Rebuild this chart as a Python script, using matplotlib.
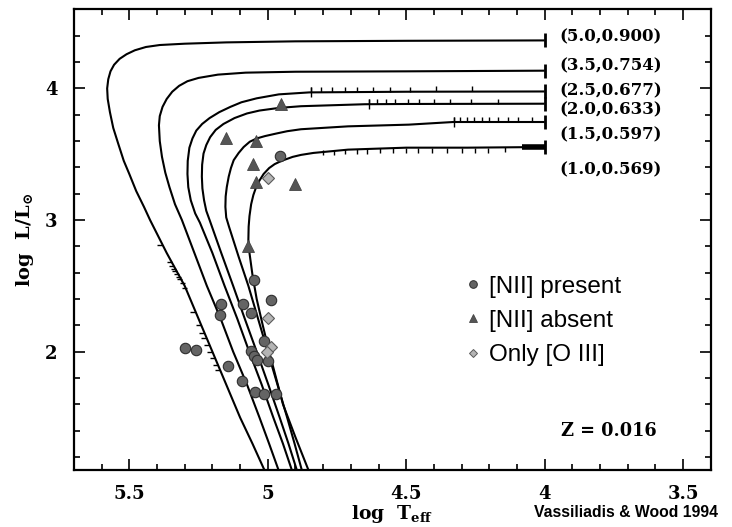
import matplotlib
matplotlib.use("Agg")
import matplotlib.pyplot as plt
from matplotlib.lines import Line2D
from matplotlib.markers import TICKUP, TICKDOWN, TICKLEFT

plt.rcParams['mathtext.fontset'] = 'dejavuserif'
plt.rcParams['mathtext.default'] = 'bf'

# ---- data -------------------------------------------------------------
track_labels = ["(5.0,0.900)", "(3.5,0.754)", "(2.5,0.677)",
                "(2.0,0.633)", "(1.5,0.597)", "(1.0,0.569)"]
label_y = [4.39, 4.17, 3.98, 3.84, 3.645, 3.385]

t50_x = [4.00, 4.50, 4.90, 5.15, 5.30, 5.39, 5.44, 5.48, 5.51, 5.535, 5.555, 5.568, 5.576, 5.58, 5.578, 5.57, 5.558, 5.54, 5.52, 5.50, 5.475, 5.447, 5.425, 5.365, 5.30, 5.25, 5.20, 5.15, 5.10, 5.055, 5.012]
t50_y = [4.365, 4.362, 4.358, 4.35, 4.34, 4.33, 4.315, 4.29, 4.26, 4.225, 4.18, 4.13, 4.07, 4.00, 3.92, 3.82, 3.70, 3.58, 3.45, 3.35, 3.22, 3.10, 3.00, 2.75, 2.50, 2.25, 2.00, 1.75, 1.50, 1.30, 1.10]

t35_x = [4.00, 4.50, 4.90, 5.08, 5.18, 5.25, 5.29, 5.32, 5.345, 5.365, 5.38, 5.39, 5.393, 5.39, 5.382, 5.37, 5.355, 5.335, 5.31, 5.265, 5.22, 5.17, 5.125, 5.075, 5.03, 4.995, 4.961]
t35_y = [4.135, 4.13, 4.127, 4.12, 4.105, 4.08, 4.055, 4.02, 3.975, 3.92, 3.86, 3.79, 3.72, 3.60, 3.48, 3.36, 3.25, 3.12, 3.00, 2.75, 2.50, 2.25, 2.00, 1.75, 1.50, 1.30, 1.10]

t25_x = [4.00, 4.50, 4.85, 4.96, 5.04, 5.095, 5.135, 5.175, 5.21, 5.237, 5.258, 5.272, 5.283, 5.289, 5.29, 5.287, 5.278, 5.262, 5.245, 5.20, 5.156, 5.11, 5.067, 5.022, 4.98, 4.945, 4.913]
t25_y = [3.977, 3.975, 3.97, 3.955, 3.925, 3.895, 3.86, 3.82, 3.775, 3.73, 3.68, 3.62, 3.55, 3.45, 3.35, 3.25, 3.15, 3.05, 2.98, 2.75, 2.50, 2.25, 2.00, 1.75, 1.50, 1.30, 1.10]

t20_x = [4.00, 4.50, 4.65, 4.88, 4.96, 5.03, 5.075, 5.12, 5.16, 5.188, 5.208, 5.222, 5.232, 5.237, 5.238, 5.236, 5.23, 5.222, 5.21, 5.168, 5.125, 5.083, 5.04, 4.998, 4.957, 4.925, 4.895]
t20_y = [3.884, 3.882, 3.88, 3.865, 3.852, 3.832, 3.81, 3.775, 3.73, 3.685, 3.63, 3.57, 3.505, 3.42, 3.33, 3.24, 3.15, 3.07, 3.00, 2.75, 2.50, 2.25, 2.00, 1.75, 1.50, 1.30, 1.10]

t15_x = [4.00, 4.33, 4.49, 4.71, 4.88, 4.93, 4.97, 5.01, 5.04, 5.065, 5.087, 5.105, 5.123, 5.133, 5.141, 5.148, 5.152, 5.153, 5.15, 5.14, 5.105, 5.07, 5.035, 5.00, 4.965, 4.93, 4.903, 4.877]
t15_y = [3.745, 3.745, 3.725, 3.712, 3.69, 3.675, 3.657, 3.638, 3.62, 3.595, 3.555, 3.51, 3.455, 3.395, 3.33, 3.25, 3.18, 3.10, 3.02, 2.95, 2.72, 2.50, 2.25, 2.00, 1.75, 1.50, 1.30, 1.10]

t10_x = [4.00, 4.28, 4.50, 4.71, 4.835, 4.88, 4.91, 4.95, 4.975, 4.995, 5.015, 5.03, 5.042, 5.052, 5.06, 5.066, 5.069, 5.07, 5.066, 5.055, 5.04, 5.018, 4.995, 4.97, 4.945, 4.90, 4.853]
t10_y = [3.555, 3.55, 3.55, 3.535, 3.51, 3.495, 3.48, 3.45, 3.425, 3.395, 3.35, 3.30, 3.25, 3.19, 3.12, 3.03, 2.95, 2.85, 2.75, 2.58, 2.40, 2.20, 2.00, 1.80, 1.60, 1.35, 1.10]

tracks_x = [t50_x, t35_x, t25_x, t20_x, t15_x, t10_x]
tracks_y = [t50_y, t35_y, t25_y, t20_y, t15_y, t10_y]

thick_x = [4.00, 4.08]
thick_y = [3.555, 3.555]

# small time-step ticks along the tracks
step25_x = [4.844, 4.808, 4.768, 4.72, 4.676, 4.62, 4.56, 4.486, 4.392, 4.263]
step25_y = [3.972, 3.973, 3.974, 3.975, 3.975, 3.975, 3.976, 3.976, 3.977, 3.977]
step20_x = [4.636, 4.606, 4.572, 4.54, 4.495, 4.452, 4.399, 4.341, 4.266, 4.167]
step20_y = [3.88, 3.881, 3.881, 3.882, 3.882, 3.882, 3.883, 3.883, 3.884, 3.884]
step15_x = [4.327, 4.305, 4.281, 4.254, 4.227, 4.20, 4.17, 4.134, 4.095, 4.046]
step15_y = [3.745, 3.745, 3.745, 3.745, 3.745, 3.745, 3.745, 3.745, 3.745, 3.745]
step10_x = [4.80, 4.762, 4.72, 4.678, 4.64, 4.594, 4.548, 4.50, 4.456, 4.407, 4.353, 4.299, 4.25, 4.203, 4.143]
step10_y = [3.53, 3.535, 3.538, 3.54, 3.543, 3.545, 3.548, 3.55, 3.55, 3.55, 3.55, 3.55, 3.55, 3.551, 3.552]
step50_x = [5.382, 5.345, 5.338, 5.332, 5.326, 5.32, 5.314, 5.308, 5.30, 5.29, 5.262, 5.242, 5.23, 5.222, 5.212, 5.20, 5.19, 5.18, 5.172]
step50_y = [2.81, 2.68, 2.65, 2.63, 2.61, 2.59, 2.57, 2.55, 2.52, 2.48, 2.30, 2.20, 2.14, 2.10, 2.05, 2.00, 1.95, 1.90, 1.86]

present_x = [5.049, 4.990, 5.170, 5.090, 5.172, 5.060, 5.300, 5.260, 5.012, 5.060, 5.051, 5.040, 5.000, 5.142, 5.092, 5.046, 5.012, 4.972, 4.955]
present_y = [2.545, 2.390, 2.360, 2.360, 2.280, 2.290, 2.030, 2.010, 2.080, 2.005, 1.968, 1.935, 1.930, 1.892, 1.778, 1.690, 1.680, 1.680, 3.483]

absent_x = [4.952, 5.150, 5.042, 5.052, 5.041, 4.903, 5.072]
absent_y = [3.882, 3.620, 3.600, 3.423, 3.287, 3.272, 2.804]

oiii_x = [5.000, 5.000, 4.988, 5.002]
oiii_y = [3.322, 2.258, 2.039, 2.000]

legend_labels = ["[NII] present", "[NII] absent", "Only [O III]"]

# ---- figure -----------------------------------------------------------
fig = plt.figure(figsize=(7.32, 5.27), dpi=100)
ax = fig.add_axes([0.101, 0.108, 0.870, 0.874])

for tx, ty in zip(tracks_x, tracks_y):
    ax.plot(tx, ty, color='black', lw=1.5, solid_capstyle='butt',
            solid_joinstyle='round', zorder=2)
    ax.plot(tx[0], ty[0], marker='|', ms=10, mew=2.0, color='black', zorder=2)
ax.plot(thick_x, thick_y, color='black', lw=4, solid_capstyle='butt', zorder=2)
tick_sty = dict(ls='none', ms=3.5, mew=1.0, color='black', zorder=2)
for sx, sy in [(step25_x, step25_y), (step20_x, step20_y), (step15_x, step15_y)]:
    ax.plot(sx, sy, marker=TICKUP, **tick_sty)
    ax.plot(sx[0], sy[0], marker='|', ls='none', ms=7, mew=1.0, color='black', zorder=2)
ax.plot(step10_x, step10_y, marker=TICKDOWN, **tick_sty)
ax.plot(step50_x, step50_y, marker=TICKLEFT, **tick_sty)

sty = dict(ls='none', zorder=3)
ax.plot(present_x, present_y, marker='o', ms=7.5, mfc='#646464', mec='#2e2e2e', mew=0.8, **sty)
ax.plot(absent_x, absent_y, marker='^', ms=8, mfc='#555555', mec='#444444', mew=0.6, **sty)
ax.plot(oiii_x, oiii_y, marker='D', ms=6, mfc='#b4b4b4', mec='#5a5a5a', mew=0.8, **sty)

serif_bold = dict(family='DejaVu Serif', weight='bold')
for lab, ly in zip(track_labels, label_y):
    ax.text(3.945, ly, lab, ha='left', va='center', fontsize=12, **serif_bold)
ax.text(3.94, 1.395, "Z = 0.016", ha='left', va='center', fontsize=12.8, **serif_bold)

handles = [
    Line2D([], [], ls='none', marker='o', ms=5.5, mfc='#646464', mec='#2e2e2e', mew=0.7),
    Line2D([], [], ls='none', marker='^', ms=6, mfc='#555555', mec='#444444', mew=0.6),
    Line2D([], [], ls='none', marker='D', ms=4.5, mfc='#b4b4b4', mec='#5a5a5a', mew=0.7),
]
leg = ax.legend(handles, legend_labels, loc='upper left', bbox_to_anchor=(0.596, 0.443),
                frameon=False, handlelength=0.8, handletextpad=0.25, labelspacing=0.5,
                borderaxespad=0, prop=dict(family='Liberation Sans', size=17.5))

ax.set_xlim(5.7, 3.4)
ax.set_ylim(1.1, 4.6)
ax.set_xticks([5.5, 5.0, 4.5, 4.0, 3.5])
ax.set_xticklabels(["5.5", "5", "4.5", "4", "3.5"])
ax.set_xticks([5.6, 5.4, 5.3, 5.2, 5.1, 4.9, 4.8, 4.7, 4.6, 4.4, 4.3, 4.2, 4.1,
               3.9, 3.8, 3.7, 3.6], minor=True)
ax.set_yticks([2, 3, 4])
ax.set_yticklabels(["2", "3", "4"])
ax.set_yticks([1.2, 1.4, 1.6, 1.8, 2.2, 2.4, 2.6, 2.8, 3.2, 3.4, 3.6, 3.8, 4.2, 4.4], minor=True)

ax.tick_params(which='both', direction='in', top=True, right=True, width=1.2, color='black')
ax.tick_params(which='major', length=8)
ax.tick_params(which='minor', length=4.5)
ax.tick_params(axis='x', which='major', pad=11)
ax.tick_params(axis='y', which='major', pad=12)
for lab in ax.get_xticklabels() + ax.get_yticklabels():
    lab.set_fontfamily('DejaVu Serif')
    lab.set_fontweight('bold')
    lab.set_fontsize(13)
for sp in ax.spines.values():
    sp.set_linewidth(1.6)

ax.set_xlabel(r"log  T$_{\mathbf{eff}}$", fontsize=13.5, labelpad=0, **serif_bold)
ax.set_ylabel(r"log  L/L$_{\odot}$", fontsize=14, labelpad=6, **serif_bold)

fig.text(0.981, 0.027, "Vassiliadis & Wood 1994", ha='right', va='center',
         fontsize=11.3, family=['Liberation Sans Narrow', 'Liberation Sans'], weight='bold')

fig.savefig("out.png", dpi=100)
